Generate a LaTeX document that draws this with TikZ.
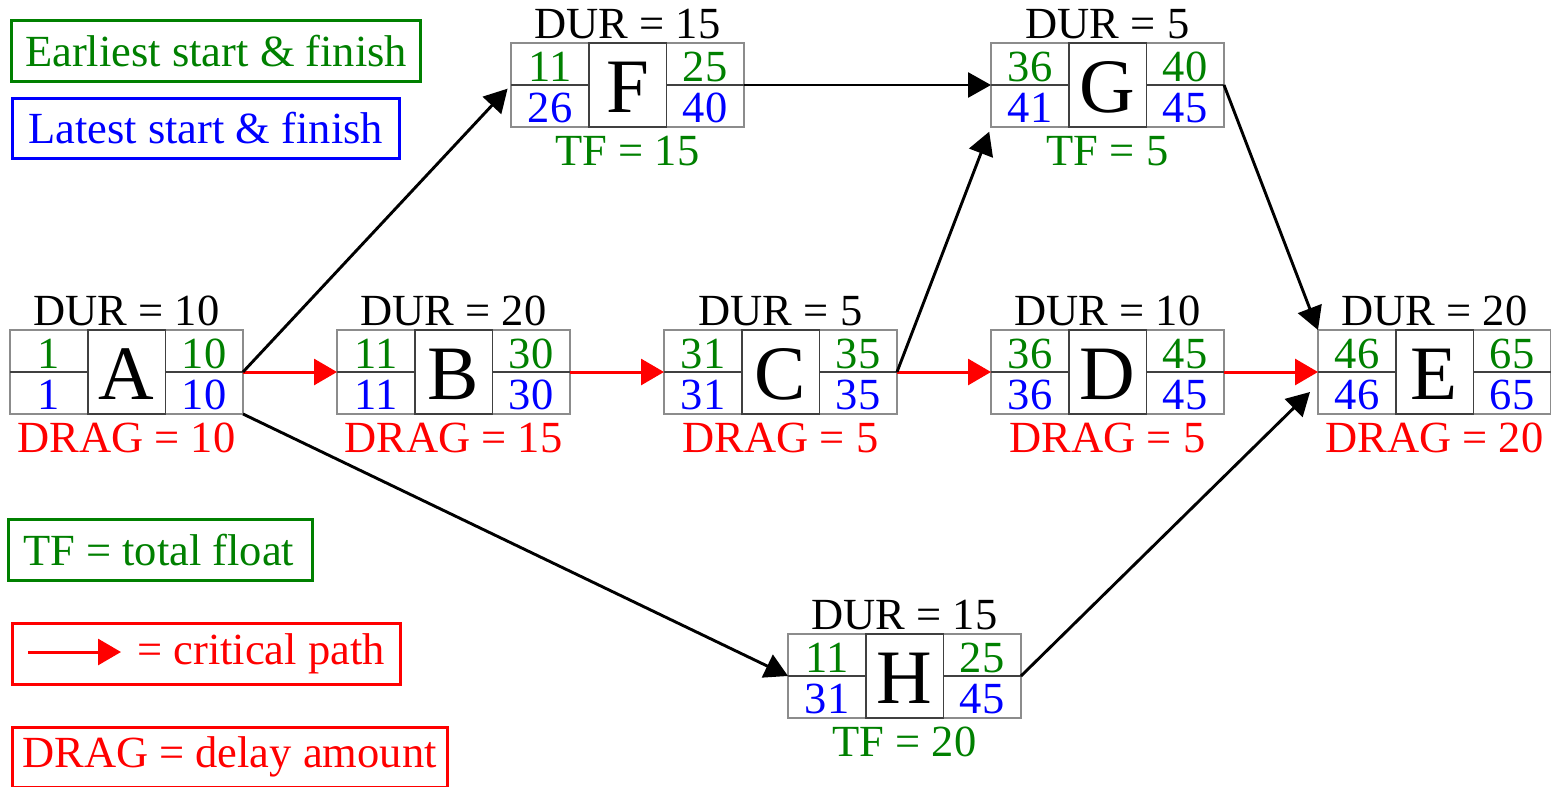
\documentclass[tikz,border=0pt]{standalone}
\usepackage{fontspec}
\setmainfont{Liberation Serif}
\usetikzlibrary{arrows.meta,calc}
\definecolor{mygreen}{RGB}{0,128,0}
\definecolor{myblue}{RGB}{0,0,255}
\definecolor{myred}{RGB}{255,0,0}
\definecolor{boxgray}{RGB}{140,140,140}
\tikzset{
  actbox/.style={minimum width=233pt, minimum height=84pt, inner sep=0pt, outer sep=0pt},
  outerline/.style={draw=boxgray, line width=1.6pt},
  innerline/.style={draw=black!75, line width=1.6pt},
  numtxt/.style={font=\fontsize{44.5}{50}\selectfont, anchor=base, inner sep=0pt},
  bigtxt/.style={font=\fontsize{77}{86}\selectfont, anchor=base, inner sep=0pt},
  legbox/.style={line width=3.3pt, inner sep=0pt, anchor=north west},
  legtxt/.style={font=\fontsize{44.5}{50}\selectfont, anchor=base west, inner sep=0pt},
  crit/.style={draw=myred, line width=3pt, -{Triangle[length=23pt,width=26pt]}},
  norm/.style={draw=black, line width=2.9pt, -{Triangle[length=23pt,width=25pt]}}
}
\newcommand{\actnode}[9]{%
  \node[actbox] (#1) at (#2,#3) {};
  \draw[outerline] (#1.north west) rectangle (#1.south east);
  \draw[innerline] ($(#1.west)$) -- ($(#1.west)+(77.7,0)$);
  \draw[innerline] ($(#1.east)$) -- ($(#1.east)+(-77.7,0)$);
  \draw[innerline] ($(#1.north west)+(77.7,0)$) rectangle ($(#1.south west)+(155.3,0)$);
  \node[numtxt, text=mygreen] (#1-es) at ($(#1.north west)+(39,38)$) {#5};
  \node[numtxt, text=mygreen] (#1-ef) at ($(#1.north west)+(194,38)$) {#6};
  \node[numtxt, text=myblue] (#1-ls) at ($(#1.north west)+(39,79)$) {#7};
  \node[numtxt, text=myblue] (#1-lf) at ($(#1.north west)+(194,79)$) {#8};
  \node[bigtxt] (#1-name) at ($(#1.north)+(0,69)$) {#4};
  \node[numtxt] (#1-dur) at ($(#1.north)+(0,-5)$) {DUR = #9};
}
\begin{document}
\begin{tikzpicture}[x=1pt, y=-1pt]
\useasboundingbox (0,0) rectangle (1551,787);
% legend
\node[legbox, draw=mygreen, minimum width=409pt, minimum height=61pt] (lgE) at (10,19) {};
\node[legtxt, text=mygreen] (lgEt) at (25,66) {Earliest start \& finish};
\node[legbox, draw=myblue, minimum width=387pt, minimum height=60pt] (lgL) at (11,97) {};
\node[legtxt, text=myblue] (lgLt) at (28,143) {Latest start \& finish};
\node[legbox, draw=mygreen, minimum width=304pt, minimum height=61pt] (lgT) at (7,518) {};
\node[legtxt, text=mygreen] (lgTt) at (23,565) {TF = total float};
\node[legbox, draw=myred, minimum width=388pt, minimum height=61pt] (lgC) at (11,622) {};
\coordinate (la1) at (28,652);
\coordinate (la2) at (121,652);
\draw[crit] (la1) -- (la2);
\node[legtxt, text=myred] (lgCt) at (137,664) {= critical path};
\node[legbox, draw=myred, minimum width=435pt, minimum height=60pt] (lgD) at (11,726) {};
\node[legtxt, text=myred] (lgDt) at (22,767) {DRAG = delay amount};
% activities
\actnode{A}{126.5}{372}{A}{1}{10}{1}{10}{10}
\actnode{B}{453.5}{372}{B}{11}{30}{11}{30}{20}
\actnode{C}{780.5}{372}{C}{31}{35}{31}{35}{5}
\actnode{D}{1107.5}{372}{D}{36}{45}{36}{45}{10}
\actnode{E}{1434.5}{372}{E}{46}{65}{46}{65}{20}
\actnode{F}{627.5}{85}{F}{11}{25}{26}{40}{15}
\actnode{G}{1107.5}{85}{G}{36}{40}{41}{45}{5}
\actnode{H}{904.5}{676}{H}{11}{25}{31}{45}{15}
\node[numtxt, text=myred] (A-drag) at ($(A.south)+(0,38)$) {DRAG = 10};
\node[numtxt, text=myred] (B-drag) at ($(B.south)+(0,38)$) {DRAG = 15};
\node[numtxt, text=myred] (C-drag) at ($(C.south)+(0,38)$) {DRAG = 5};
\node[numtxt, text=myred] (D-drag) at ($(D.south)+(0,38)$) {DRAG = 5};
\node[numtxt, text=myred] (E-drag) at ($(E.south)+(0,38)$) {DRAG = 20};
\node[numtxt, text=mygreen] (F-tf) at ($(F.south)+(0,38)$) {TF = 15};
\node[numtxt, text=mygreen] (G-tf) at ($(G.south)+(0,38)$) {TF = 5};
\node[numtxt, text=mygreen] (H-tf) at ($(H.south)+(0,38)$) {TF = 20};
% connectors
\draw[crit] (A.east) -- (B.west);
\draw[crit] (B.east) -- (C.west);
\draw[crit] (C.east) -- (D.west);
\draw[crit] (D.east) -- (E.west);
\draw[norm, shorten >=5pt] (A.east) -- (F.west);
\draw[norm] (F.east) -- (G.west);
\draw[norm, shorten >=5pt] (C.east) -- (G.south west);
\draw[norm] (G.east) -- (E.north west);
\draw[norm] (A.south east) -- (H.west);
\coordinate (Ein) at ($(E.west)+(-8,20)$);
\draw[norm] (H.east) -- (Ein);
\end{tikzpicture}
\end{document}
